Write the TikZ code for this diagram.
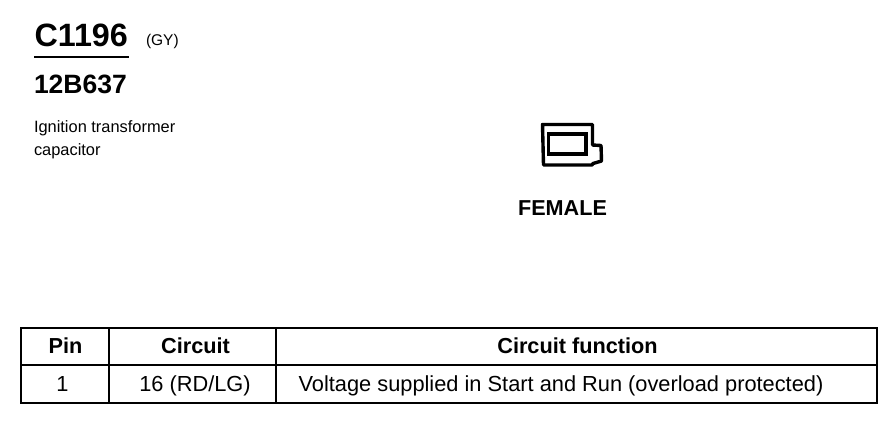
\documentclass[tikz,border=0pt]{standalone}
\usepackage{fontspec}
\setmainfont{Liberation Sans}
\usetikzlibrary{positioning}
\tikzset{%
	cell/.style={%
		rectangle,
		draw,
		line width=2.4pt,
		inner sep=0pt,
		outer sep=0pt
	},
	headcell/.style={cell, minimum height=37pt},
	rowcell/.style={cell, minimum height=38pt},
	plain/.style={inner sep=0pt, outer sep=0pt, anchor=base west},
	headtext/.style={inner sep=0pt, outer sep=0pt, anchor=base, font=\fontsize{21.7}{24}\selectfont\bfseries},
	rowtext/.style={inner sep=0pt, outer sep=0pt, anchor=base, font=\fontsize{21.8}{24}\selectfont}
}
\begin{document}
\begin{tikzpicture}[x=1pt, y=-1pt, node distance=0pt]
	\useasboundingbox (0,0) rectangle (896,432);
	\node [plain, font=\fontsize{32.3}{36}\selectfont\bfseries] (code) at (34.5,46) {C1196};
	\node [plain, font=\fontsize{15.5}{18}\selectfont] (colour) at (146,45) {(GY)};
	\node [plain, font=\fontsize{26.5}{30}\selectfont\bfseries] (part) at (34,93) {12B637};
	\node [plain, font=\fontsize{16.4}{23}\selectfont] (nameone) at (34,132) {Ignition transformer};
	\node [plain, font=\fontsize{16.4}{23}\selectfont] (nametwo) at (34,155) {capacitor};
	\coordinate (ruleleft) at (34,57);
	\coordinate (ruleright) at (129,57);
	\draw [line width=1.8pt] (ruleleft) -- (ruleright);
	% connector face
	\draw [line width=3.4pt, line join=round] (542.5,124.5) -- (592.5,124.5) -- (592.5,145) -- (601,145.5) -- (601.5,161) -- (593,163.5) -- (592,165) -- (543.5,165) -- cycle;
	\draw [line width=3.2pt] (548.5,134) rectangle (586,154);
	\node [plain, anchor=base, font=\fontsize{21.6}{24}\selectfont\bfseries] (gender) at (562.5,215) {FEMALE};
	% table
	\node [headcell, minimum width=88pt, anchor=north west] (pin) at (21,328) {};
	\node [headcell, minimum width=167pt, right=of pin] (circuit) {};
	\node [headcell, minimum width=601pt, right=of circuit] (function) {};
	\node [rowcell, minimum width=88pt, below=of pin] (pinval) {};
	\node [rowcell, minimum width=167pt, right=of pinval] (circuitval) {};
	\node [rowcell, minimum width=601pt, right=of circuitval] (functionval) {};
	\node [headtext] (pintext) at (65.5,353) {Pin};
	\node [headtext] (circuittext) at (195.5,353) {Circuit};
	\node [headtext] (functiontext) at (577.5,353) {Circuit function};
	\node [rowtext] (pinvaltext) at (62.5,391) {1};
	\node [rowtext] (circuitvaltext) at (195,391) {16 (RD/LG)};
	\node [rowtext] (functionvaltext) at (561,391) {Voltage supplied in Start and Run (overload protected)};
\end{tikzpicture}
\end{document}
